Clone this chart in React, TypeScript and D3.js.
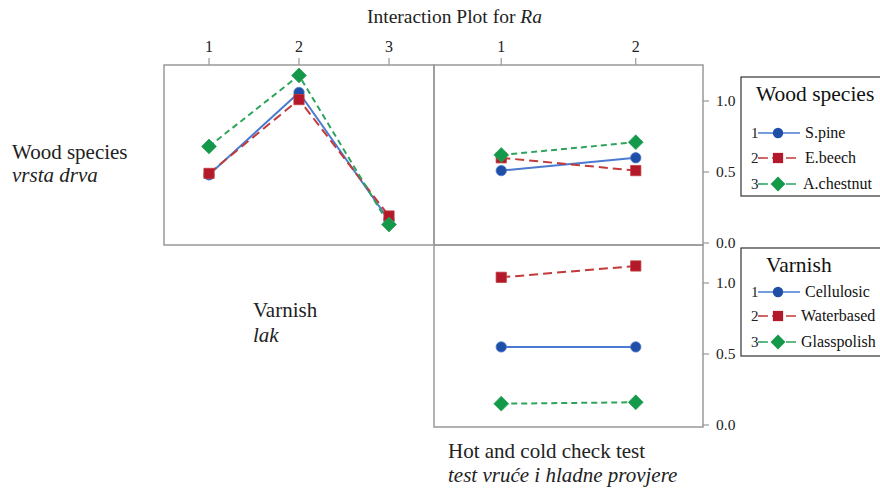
import React from 'react';
import * as d3 from 'd3';

const varnishLevels = ['1', '2', '3'];
const testLevels = ['1', '2'];
const woodNames = ['S.pine', 'E.beech', 'A.chestnut'];
const varnishNames = ['Cellulosic', 'Waterbased', 'Glasspolish'];
const yTicks = [0, 0.5, 1.0];

// Ra means: rows = line factor level, columns = x level
const woodByVarnish = [
  [0.48, 1.06, 0.16],
  [0.49, 1.01, 0.19],
  [0.68, 1.18, 0.13],
];
const woodByTest = [
  [0.51, 0.6],
  [0.6, 0.51],
  [0.62, 0.71],
];
const varnishByTest = [
  [0.55, 0.55],
  [1.04, 1.12],
  [0.15, 0.16],
];

const W = 880;
const H = 492;
const font = "'Liberation Serif', 'Times New Roman', Tinos, 'DejaVu Serif', serif";

// square turned 45 degrees, same look as the plot's diamonds
const symbolRhomb: d3.SymbolType = {
  draw(ctx, size) {
    const r = Math.sqrt(size / 2);
    ctx.moveTo(0, -r);
    ctx.lineTo(r, 0);
    ctx.lineTo(0, r);
    ctx.lineTo(-r, 0);
    ctx.closePath();
  },
};

const styles = [
  { marker: '#1f4ea6', line: '#4a7bd0', dash: undefined, sym: d3.symbolCircle, size: 85 },
  { marker: '#b3192a', line: '#c23a3a', dash: '9,5', sym: d3.symbolSquare, size: 105 },
  { marker: '#14994a', line: '#2ea35c', dash: '6,4', sym: symbolRhomb, size: 110 },
];

const panelX = { left: 164, mid: 434, right: 703 };
const panelY = { top: 65, mid: 245, bottom: 427 };

const xVarnish = d3.scalePoint<string>().domain(varnishLevels).range([panelX.left, panelX.mid]).padding(0.5);
const xTest = d3.scalePoint<string>().domain(testLevels).range([panelX.mid, panelX.right]).padding(0.5);
const yTop = d3.scaleLinear().domain([0, 1]).range([243, 101]);
const yBot = d3.scaleLinear().domain([0, 1]).range([425, 283]);

const symbolPath = (i: number) => d3.symbol().type(styles[i].sym).size(styles[i].size)() as string;

function Series({ data, levels, x, y }: { data: number[][]; levels: string[]; x: d3.ScalePoint<string>; y: d3.ScaleLinear<number, number> }) {
  const line = d3
    .line<number>()
    .x((_, j) => x(levels[j]) as number)
    .y((v) => y(v));
  return (
    <g>
      {data.map((row, i) => (
        <path key={'l' + i} d={line(row) as string} fill="none" stroke={styles[i].line} strokeWidth={2} strokeDasharray={styles[i].dash} />
      ))}
      {data.map((row, i) =>
        row.map((v, j) => (
          <path key={'m' + i + j} d={symbolPath(i)} transform={`translate(${x(levels[j])},${y(v)})`} fill={styles[i].marker} stroke={styles[i].line} strokeWidth={0.8} />
        ))
      )}
    </g>
  );
}

function TopAxis({ x, levels }: { x: d3.ScalePoint<string>; levels: string[] }) {
  return (
    <g>
      {levels.map((l) => (
        <g key={l} transform={`translate(${x(l)},0)`}>
          <line y1={panelY.top - 7} y2={panelY.top} stroke="#999" strokeWidth={1.2} />
          <text y={52} textAnchor="middle" fontSize={16} fill="#222">{l}</text>
        </g>
      ))}
    </g>
  );
}

function RightAxis({ y }: { y: d3.ScaleLinear<number, number> }) {
  return (
    <g>
      {yTicks.map((t) => (
        <g key={t} transform={`translate(${panelX.right},${y(t)})`}>
          <line x1={0} x2={6} stroke="#999" strokeWidth={1.2} />
          <text x={13} dy="0.35em" fontSize={15.5} fill="#222">{d3.format('.1f')(t)}</text>
        </g>
      ))}
    </g>
  );
}

function Legend({ title, titleX, names, nameX, top, height, rows, titleY }: { title: string; titleX: number; names: string[]; nameX: number[]; top: number; height: number; rows: number[]; titleY: number }) {
  return (
    <g>
      <rect x={741} y={top} width={160} height={height} fill="white" stroke="#333" strokeWidth={1.2} />
      <text x={titleX} y={titleY} fontSize={21.5} fill="#111">{title}</text>
      {names.map((n, i) => (
        <g key={n} transform={`translate(0,${rows[i]})`}>
          <text x={751} dy="0.35em" fontSize={15} fill="#222">{i + 1}</text>
          <line x1={758} x2={800} stroke={styles[i].line} strokeWidth={1.6} strokeDasharray={styles[i].dash ? '10,4' : undefined} />
          <path d={symbolPath(i)} transform="translate(778,0)" fill={styles[i].marker} />
          <text x={nameX[i]} dy="0.3em" fontSize={16} fill="#111">{n}</text>
        </g>
      ))}
    </g>
  );
}

export default function App() {
  return (
    <svg width={W} height={H} style={{ position: 'absolute', left: 0, top: 0, background: 'white', fontFamily: font }}>
      <text x={367} y={23} fontSize={19.5} fill="#222">
        Interaction Plot for <tspan fontStyle="italic">Ra</tspan>
      </text>

      {/* panels */}
      <rect x={panelX.left} y={panelY.top} width={panelX.mid - panelX.left} height={panelY.mid - panelY.top} fill="none" stroke="#999" strokeWidth={1.5} />
      <rect x={panelX.mid} y={panelY.top} width={panelX.right - panelX.mid} height={panelY.mid - panelY.top} fill="none" stroke="#999" strokeWidth={1.5} />
      <rect x={panelX.mid} y={panelY.mid} width={panelX.right - panelX.mid} height={panelY.bottom - panelY.mid} fill="none" stroke="#999" strokeWidth={1.5} />

      <TopAxis x={xVarnish} levels={varnishLevels} />
      <TopAxis x={xTest} levels={testLevels} />
      <RightAxis y={yTop} />
      <RightAxis y={yBot} />

      <Series data={woodByVarnish} levels={varnishLevels} x={xVarnish} y={yTop} />
      <Series data={woodByTest} levels={testLevels} x={xTest} y={yTop} />
      <Series data={varnishByTest} levels={testLevels} x={xTest} y={yBot} />

      {/* factor labels */}
      <text x={12} y={159} fontSize={21} fill="#222">Wood species</text>
      <text x={12} y={182} fontSize={21} fill="#222" fontStyle="italic">vrsta drva</text>
      <text x={253} y={317} fontSize={21} fill="#222">Varnish</text>
      <text x={253} y={342} fontSize={21} fill="#222" fontStyle="italic">lak</text>
      <text x={448} y={458} fontSize={21} fill="#222">Hot and cold check test</text>
      <text x={448} y={482} fontSize={21} fill="#222" fontStyle="italic">test vruće i hladne provjere</text>

      <Legend title="Wood species" titleX={756} names={woodNames} nameX={[805, 805, 803]} top={77} height={119} rows={[133, 158, 184]} titleY={101} />
      <Legend title="Varnish" titleX={766} names={varnishNames} nameX={[805, 801, 801]} top={248} height={108} rows={[292, 316, 342]} titleY={272} />
    </svg>
  );
}
